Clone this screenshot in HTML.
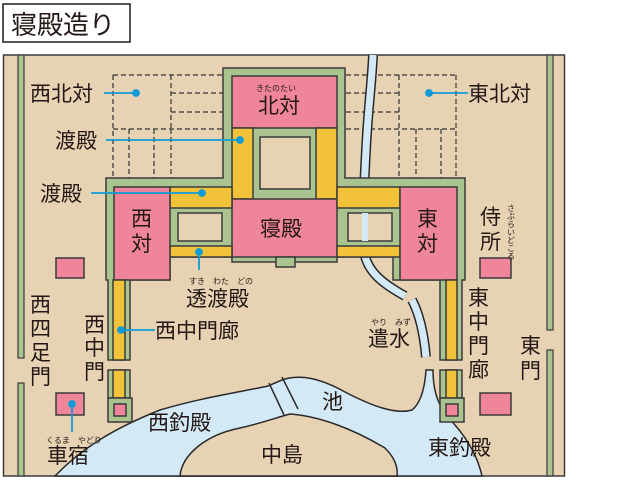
<!DOCTYPE html>
<html><head><meta charset="utf-8"><style>
body{margin:0;background:#fff;width:640px;height:480px;overflow:hidden}
svg{display:block}
text{font-family:"Liberation Sans","Noto Sans CJK JP",sans-serif;fill:#231815}
</style></head><body>
<svg width="640" height="480" viewBox="0 0 640 480">
<rect x="3" y="4" width="127" height="38" fill="#fff" stroke="#231815" stroke-width="1.5"/>
<text x="11" y="34" font-size="26">寝殿造り</text>
<rect x="3.5" y="55" width="561" height="421" fill="#e8d2b4" stroke="#3a3a3a" stroke-width="1.5"/>
<!-- walls -->
<g fill="#a9c48f" stroke="#3a3a3a" stroke-width="1.2">
<rect x="18" y="55" width="6" height="303"/>
<rect x="18" y="383" width="6" height="93"/>
<rect x="547" y="55" width="6" height="275"/>
<rect x="547" y="350" width="6" height="126"/>
</g>
<!-- dashed -->
<g fill="none" stroke="#333" stroke-width="1.2" stroke-dasharray="5,3">
<path d="M113 75H224M171 93H224M171 112H224M113 129H224M113 75V178M171 75V129M129 129V178M154 129V178M171 129V178"/>
<path d="M346 75H456M346 93H399M346 112H399M346 129H456M399 75V178M456 75V178M416 129V178M441 129V178"/>
</g>
<!-- pond -->
<path d="M55 476 C80 450 110 430 160 410 C200 398 240 392 268 386 L282 380 C300 374 320 378 345 392 C370 405 395 415 412 410 C422 402 425 385 426 370 L433 370 C433 395 440 410 455 425 C468 440 478 458 482 476 Z" fill="#d3e9f6" stroke="#2a2a2a" stroke-width="1.5"/>
<path d="M180 476 C182 455 205 435 240 428 C262 423 275 418 290 414 C320 416 355 430 385 448 C395 458 398 468 397 476 Z" fill="#e8d2b4" stroke="#2a2a2a" stroke-width="1.5"/>
<path d="M269 383 L284 415 M282 377 L298 409" stroke="#2a2a2a" stroke-width="1.5"/>
<!-- stream -->
<path d="M373 55 C372 80 368 110 366 150 C364 190 362 220 364 250 C366 272 385 285 405 296" fill="none" stroke="#2a2a2a" stroke-width="10"/>
<path d="M373 55 C372 80 368 110 366 150 C364 190 362 220 364 250 C366 272 385 285 405 296" fill="none" stroke="#d3e9f6" stroke-width="7"/>
<path d="M412 300 C420 315 424 335 426 357" fill="none" stroke="#2a2a2a" stroke-width="10"/>
<path d="M412 300 C420 315 424 335 426 357" fill="none" stroke="#d3e9f6" stroke-width="7"/>
<!-- buildings -->
<g stroke="#3a3a3a" stroke-width="1.5">
<path d="M223 68H345V178H465V280H462V360H440V280H393V257H337V262H232V257H170V280H130V360H108V280H106V178H223Z" fill="#a9c48f"/>
<rect x="232" y="76" width="105" height="52" fill="#ef8599"/>
<rect x="232" y="128" width="21" height="71" fill="#f2c23a"/>
<rect x="316" y="128" width="21" height="71" fill="#f2c23a"/>
<rect x="260" y="137" width="50" height="52" fill="#e8d2b4"/>
<rect x="232" y="199" width="105" height="58" fill="#ef8599"/>
<rect x="170" y="187" width="62" height="21" fill="#f2c23a"/>
<rect x="170" y="246" width="62" height="11" fill="#f2c23a"/>
<rect x="178" y="213" width="44" height="28" fill="#e8d2b4"/>
<rect x="337" y="187" width="63" height="21" fill="#f2c23a"/>
<rect x="337" y="246" width="63" height="11" fill="#f2c23a"/>
<rect x="348" y="213" width="44" height="28" fill="#e8d2b4"/>
<rect x="114" y="187" width="56" height="93" fill="#ef8599"/>
<rect x="400" y="187" width="57" height="93" fill="#ef8599"/>
<rect x="113" y="280" width="12" height="80" fill="#f2c23a"/>
<rect x="446" y="280" width="11" height="80" fill="#f2c23a"/>
<rect x="276" y="257" width="19" height="10" fill="#a9c48f"/>
<rect x="108" y="370" width="22" height="28" fill="#a9c48f"/>
<rect x="113" y="370" width="12" height="28" fill="#f2c23a"/>
<rect x="440" y="370" width="22" height="28" fill="#a9c48f"/>
<rect x="446" y="370" width="11" height="28" fill="#f2c23a"/>
<rect x="108" y="398" width="24" height="24" fill="#a9c48f"/>
<rect x="114" y="404" width="12" height="12" fill="#ef8599"/>
<rect x="440" y="398" width="24" height="24" fill="#a9c48f"/>
<rect x="446" y="404" width="12" height="12" fill="#ef8599"/>
<rect x="56" y="258" width="28" height="20" fill="#ef8599"/>
<rect x="56" y="393" width="28" height="22" fill="#ef8599"/>
<rect x="480" y="258" width="31" height="20" fill="#ef8599"/>
<rect x="480" y="393" width="31" height="22" fill="#ef8599"/>
</g>
<path d="M365 213V241" stroke="#d3e9f6" stroke-width="6"/>
<!-- leaders -->
<g stroke="#0f9bd7" stroke-width="1.8" fill="#0f9bd7">
<path d="M104 93H136M468 93H429M106 140H240M91 193H202M199 252V270M121 330H155M72 404V432" fill="none"/>
<circle cx="136" cy="93" r="3"/><circle cx="429" cy="93" r="3"/><circle cx="240" cy="140" r="3"/>
<circle cx="202" cy="193" r="3"/><circle cx="199" cy="252" r="3"/><circle cx="121" cy="330" r="3"/><circle cx="72" cy="404" r="3"/>
</g>
<!-- labels -->
<g font-size="21">
<text x="30" y="101">西北対</text>
<text x="468" y="101">東北対</text>
<text x="55" y="148">渡殿</text>
<text x="40" y="201">渡殿</text>
<text x="258" y="113">北対</text>
<text x="260" y="236">寝殿</text>
<text x="131" y="226">西</text><text x="131" y="251">対</text>
<text x="417" y="226">東</text><text x="417" y="251">対</text>
<text x="480" y="224">侍</text><text x="480" y="249">所</text>
<text x="186" y="306">透渡殿</text>
<text x="155" y="338">西中門廊</text>
<text x="84" y="332">西</text><text x="84" y="355">中</text><text x="84" y="379">門</text>
<text x="30" y="312">西</text><text x="30" y="336">四</text><text x="30" y="360">足</text><text x="30" y="384">門</text>
<text x="468" y="305">東</text><text x="468" y="329">中</text><text x="468" y="353">門</text><text x="468" y="377">廊</text>
<text x="520" y="353">東</text><text x="520" y="378">門</text>
<text x="368" y="346">遣水</text>
<text x="322" y="409">池</text>
<text x="148" y="430">西釣殿</text>
<text x="261" y="462">中島</text>
<text x="428" y="455">東釣殿</text>
<text x="47" y="463">車宿</text>
</g>
<g font-size="8">
<text x="256" y="91">きたのたい</text>
<text x="189" y="284">すき　わた　どの</text>
<text x="371" y="325">やり　みず</text>
<text x="46" y="443">くるま　やどり</text>
</g>
<text font-size="8" writing-mode="tb" x="511" y="204" style="writing-mode:vertical-rl">さぶらいどころ</text>
</svg>
</body></html>
